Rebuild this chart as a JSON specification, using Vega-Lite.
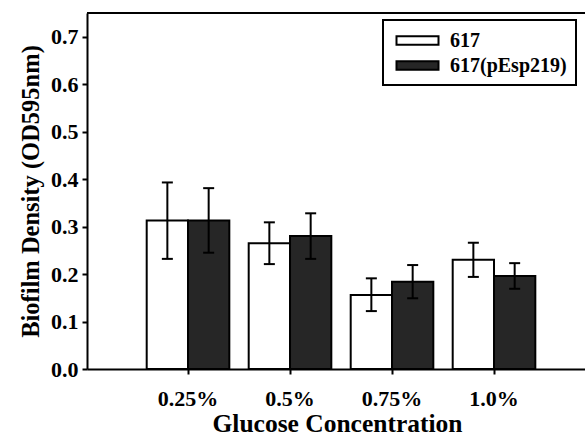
{
  "$schema": "https://vega.github.io/schema/vega-lite/v6.json",
  "width": 500,
  "height": 356,
  "autosize": {"type": "none"},
  "padding": {"left": 87, "top": 13, "right": 0, "bottom": 69},
  "background": "white",
  "config": {
    "view": {"stroke": null},
    "font": "Liberation Serif, Times New Roman, serif",
    "axis": {
      "domainColor": "black", "domainWidth": 2, "tickColor": "black", "tickWidth": 2, "tickSize": 5,
      "labelFont": "Liberation Serif, Times New Roman, serif", "labelFontWeight": "bold", "labelColor": "black",
      "titleFont": "Liberation Serif, Times New Roman, serif", "titleFontWeight": "bold", "titleColor": "black", "grid": false
    }
  },
  "datasets": {
    "bars": [
      {"conc": "0.25%", "strain": "617", "mean": 0.313, "lo": 0.232, "hi": 0.393},
      {"conc": "0.25%", "strain": "617(pEsp219)", "mean": 0.313, "lo": 0.245, "hi": 0.381},
      {"conc": "0.5%", "strain": "617", "mean": 0.265, "lo": 0.221, "hi": 0.309},
      {"conc": "0.5%", "strain": "617(pEsp219)", "mean": 0.280, "lo": 0.232, "hi": 0.328},
      {"conc": "0.75%", "strain": "617", "mean": 0.156, "lo": 0.122, "hi": 0.191},
      {"conc": "0.75%", "strain": "617(pEsp219)", "mean": 0.184, "lo": 0.149, "hi": 0.219},
      {"conc": "1.0%", "strain": "617", "mean": 0.230, "lo": 0.194, "hi": 0.266},
      {"conc": "1.0%", "strain": "617(pEsp219)", "mean": 0.196, "lo": 0.169, "hi": 0.223}
    ],
    "frame": [{"top": 0.75}]
  },
  "layer": [
    {
      "data": {"name": "bars"},
      "mark": {"type": "bar", "stroke": "black", "strokeWidth": 2},
      "encoding": {
        "x": {
          "field": "conc", "type": "nominal", "sort": ["0.25%", "0.5%", "0.75%", "1.0%"],
          "scale": {"paddingInner": 0.19, "paddingOuter": 0.546, "align": 0.536},
          "axis": {"labelAngle": 0, "labelFontSize": 22, "labelPadding": 14, "title": "Glucose Concentration", "titleFontSize": 25.5, "titlePadding": 2, "domain": true}
        },
        "xOffset": {"field": "strain", "type": "nominal", "sort": ["617", "617(pEsp219)"], "scale": {"paddingInner": 0, "paddingOuter": 0}},
        "y": {
          "field": "mean", "type": "quantitative",
          "scale": {"domain": [0, 0.75], "nice": false},
          "axis": {"values": [0, 0.1, 0.2, 0.3, 0.4, 0.5, 0.6, 0.7], "format": ".1f", "labelFontSize": 22, "labelPadding": 4, "title": "Biofilm Density (OD595nm)", "titleFontSize": 24.5, "titlePadding": 7}
        },
        "fill": {
          "field": "strain", "type": "nominal",
          "scale": {"domain": ["617", "617(pEsp219)"], "range": ["white", "#262626"]},
          "legend": {
            "orient": "none", "legendX": 296, "legendY": 7, "title": null,
            "strokeColor": "black", "fillColor": "white", "padding": 9,
            "symbolType": "M-2,-0.4L2,-0.4L2,0.4L-2,0.4Z", "symbolSize": 441, "symbolOffset": 14,
            "symbolStrokeColor": "black", "symbolStrokeWidth": 2,
            "labelFont": "Liberation Serif, Times New Roman, serif", "labelFontWeight": "bold", "labelFontSize": 20, "labelColor": "black",
            "labelOffset": 21, "rowPadding": 3,
            "encode": {"legend": {"update": {"strokeWidth": {"value": 2}}}}
          }
        }
      }
    },
    {
      "data": {"name": "bars"},
      "mark": {"type": "rule", "strokeWidth": 2, "color": "black"},
      "encoding": {
        "x": {"field": "conc", "type": "nominal", "sort": ["0.25%", "0.5%", "0.75%", "1.0%"]},
        "xOffset": {"field": "strain", "type": "nominal", "sort": ["617", "617(pEsp219)"]},
        "y": {"field": "lo", "type": "quantitative"}, "y2": {"field": "hi"}
      }
    },
    {
      "data": {"name": "bars"},
      "mark": {"type": "tick", "thickness": 2, "size": 11, "color": "black", "opacity": 1},
      "encoding": {
        "x": {"field": "conc", "type": "nominal", "sort": ["0.25%", "0.5%", "0.75%", "1.0%"]},
        "xOffset": {"field": "strain", "type": "nominal", "sort": ["617", "617(pEsp219)"]},
        "y": {"field": "lo", "type": "quantitative"}
      }
    },
    {
      "data": {"name": "bars"},
      "mark": {"type": "tick", "thickness": 2, "size": 11, "color": "black", "opacity": 1},
      "encoding": {
        "x": {"field": "conc", "type": "nominal", "sort": ["0.25%", "0.5%", "0.75%", "1.0%"]},
        "xOffset": {"field": "strain", "type": "nominal", "sort": ["617", "617(pEsp219)"]},
        "y": {"field": "hi", "type": "quantitative"}
      }
    },
    {
      "data": {"name": "frame"},
      "mark": {"type": "rule", "strokeWidth": 2, "color": "black"},
      "encoding": {"y": {"field": "top", "type": "quantitative"}}
    }
  ]
}
